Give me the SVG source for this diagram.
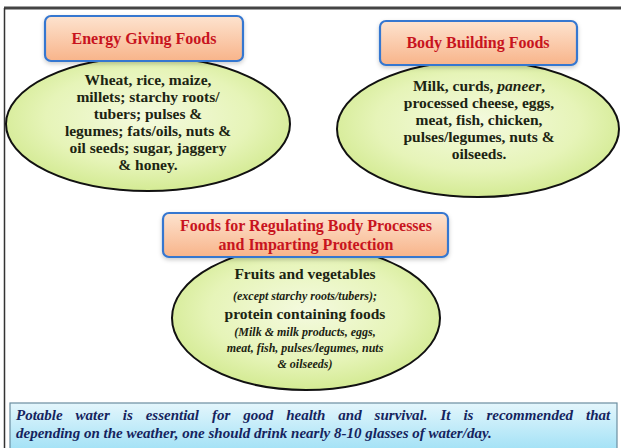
<svg xmlns="http://www.w3.org/2000/svg" width="621" height="448" viewBox="0 0 621 448">
<defs>
<linearGradient id="boxFill" x1="0" y1="0" x2="0" y2="1">
<stop offset="0" stop-color="#fde3cf"/>
<stop offset="1" stop-color="#f8b48a"/>
</linearGradient>
<radialGradient id="ellFill" cx="0.5" cy="0.45" r="0.6">
<stop offset="0" stop-color="#f4fadf"/>
<stop offset="0.6" stop-color="#e6f4b8"/>
<stop offset="1" stop-color="#cfe88a"/>
</radialGradient>
<linearGradient id="waterFill" x1="0" y1="0" x2="0" y2="1">
<stop offset="0" stop-color="#e4f6fc"/>
<stop offset="1" stop-color="#a4e2f6"/>
</linearGradient>
<filter id="sh" x="-10%" y="-10%" width="120%" height="130%">
<feDropShadow dx="0" dy="2" stdDeviation="2" flood-color="#000" flood-opacity="0.2"/>
</filter>
</defs>
<style>
text{font-family:'Liberation Serif','DejaVu Serif',serif}
.box{fill:url(#boxFill);stroke:#3577d0;stroke-width:2.2}
.ell{fill:url(#ellFill);stroke:#111;stroke-width:2}
.ttl{font-weight:bold;font-size:16px;fill:#c8141e;text-anchor:middle}
.bd{font-weight:bold;font-size:15.5px;fill:#1c2412;text-anchor:middle}
.sm{font-weight:bold;font-style:italic;font-size:12px;fill:#1c2412;text-anchor:middle}
.wt{font-weight:bold;font-style:italic;font-size:15px;fill:#15245e}
</style>
<rect width="621" height="448" fill="#ffffff"/>
<g id="frame">
<line x1="4" y1="8" x2="621" y2="8" stroke="#444" stroke-width="3"/>
<line x1="4.5" y1="8" x2="4.5" y2="448" stroke="#333" stroke-width="1.5"/>
</g>
<g id="connectors"></g>
<g id="energy">
<ellipse class="ell" cx="148" cy="124" rx="142" ry="67"/>
<rect class="box" x="45" y="16" width="198" height="45" rx="6" filter="url(#sh)"/>
<text class="ttl" x="144" y="44">Energy Giving Foods</text>
<text class="bd" x="148" y="85">Wheat, rice, maize,</text>
<text class="bd" x="148" y="102">millets; starchy roots/</text>
<text class="bd" x="148" y="119">tubers; pulses &amp;</text>
<text class="bd" x="148" y="136">legumes; fats/oils, nuts &amp;</text>
<text class="bd" x="148" y="153">oil seeds; sugar, jaggery</text>
<text class="bd" x="148" y="170">&amp; honey.</text>
</g>
<g id="bodybuilding">
<ellipse class="ell" cx="478" cy="129" rx="141" ry="68"/>
<rect class="box" x="380" y="21" width="197" height="44" rx="6" filter="url(#sh)"/>
<text class="ttl" x="478" y="48">Body Building Foods</text>
<text class="bd" x="479" y="91">Milk, curds, <tspan font-style="italic">paneer</tspan>,</text>
<text class="bd" x="479" y="108">processed cheese, eggs,</text>
<text class="bd" x="479" y="125">meat, fish, chicken,</text>
<text class="bd" x="479" y="142">pulses/legumes, nuts &amp;</text>
<text class="bd" x="479" y="159">oilseeds.</text>
</g>
<g id="regulating">
<ellipse class="ell" cx="306" cy="318" rx="134" ry="72"/>
<rect class="box" x="163" y="213" width="285" height="44" rx="6" filter="url(#sh)"/>
<text class="ttl" x="306" y="231">Foods for Regulating Body Processes</text>
<text class="ttl" x="306" y="250">and Imparting Protection</text>
<text class="bd" x="305" y="279">Fruits and vegetables</text>
<text class="sm" x="305" y="300">(except starchy roots/tubers);</text>
<text class="bd" x="305" y="319">protein containing foods</text>
<text class="sm" x="305" y="336">(Milk &amp; milk products, eggs,</text>
<text class="sm" x="305" y="352">meat, fish, pulses/legumes, nuts</text>
<text class="sm" x="305" y="368">&amp; oilseeds)</text>
</g>
<g id="water">
<rect x="10" y="403" width="607" height="46" fill="url(#waterFill)" stroke="#6b8ea0" stroke-width="1.2"/>
<text class="wt" x="16" y="420" word-spacing="9.2">Potable water is essential for good health and survival. It is recommended that</text>
<text class="wt" x="16" y="438">depending on the weather, one should drink nearly 8-10 glasses of water/day.</text>
</g>
</svg>
